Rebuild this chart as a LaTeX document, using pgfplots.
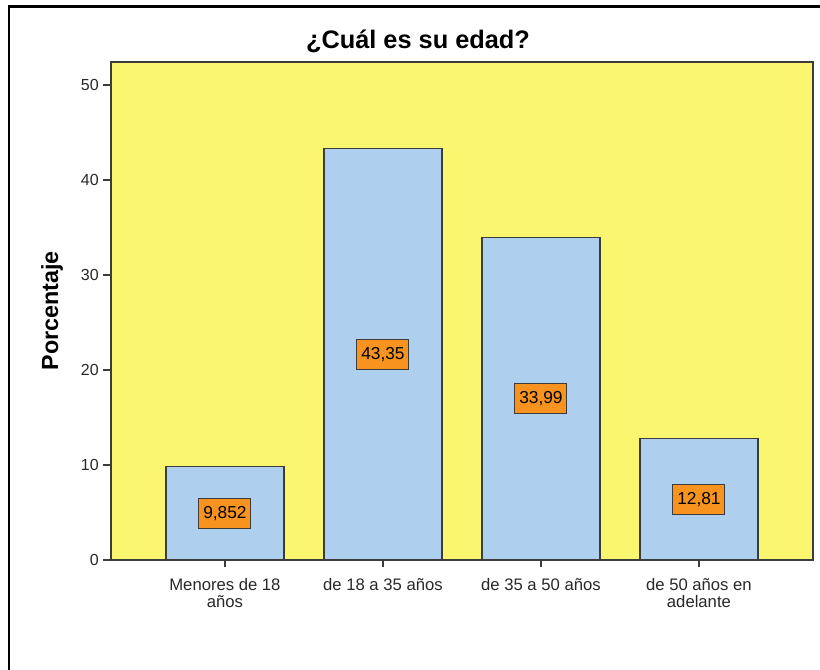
\documentclass[border=0pt]{standalone}
\usepackage{fontspec}
\setmainfont{Liberation Sans}
\usepackage{pgfplots}
\pgfplotsset{compat=1.18}
\definecolor{bgyellow}{RGB}{250,246,112}
\definecolor{barblue}{RGB}{174,207,237}
\definecolor{lblorange}{RGB}{247,147,30}
\definecolor{edgegray}{RGB}{60,60,60}
\definecolor{txtgray}{RGB}{40,40,40}
\begin{document}
\begin{tikzpicture}
\useasboundingbox (0pt,0pt) rectangle (615pt,501.75pt);
% outer frame (left and top edges)
\draw[black,line width=1.6pt] (6.75pt,-20pt) -- (6.75pt,496.9pt) -- (640pt,496.9pt);
\begin{axis}[
  at={(83.03pt,81.75pt)}, anchor=south west,
  scale only axis,
  width=526.5pt, height=373.7pt,
  xmin=-0.723, xmax=3.72,
  ymin=0, ymax=52.45,
  axis background/.style={fill=bgyellow},
  axis line style={edgegray,line width=1.2pt},
  xtick={0,1,2,3},
  xticklabels={{Menores de 18\\años},{de 18 a 35 años},{de 35 a 50 años},{de 50 años en\\adelante}},
  xticklabel style={align=center,font=\fontsize{12.5}{13}\selectfont,text=txtgray,yshift=-4.5pt},
  ytick={0,10,20,30,40,50},
  yticklabel style={font=\fontsize{12}{13}\selectfont,text=txtgray},
  /pgf/number format/assume math mode=true,
  tick style={edgegray,line width=0.9pt},
  tick align=outside,
  major tick length=5.5pt,
  xtick pos=bottom, ytick pos=left,
  ylabel={Porcentaje},
  ylabel style={font=\bfseries\fontsize{17.5}{18}\selectfont, at={(axis description cs:-0.0836,0.5)}, anchor=center},
  title={¿Cuál es su edad?},
  title style={font=\bfseries\fontsize{19}{20}\selectfont, at={(axis description cs:0.5,1)}, anchor=center, xshift=-32.8pt, yshift=9.5pt},
  clip=false,
]
\addplot[ybar, bar width=0.747, fill=barblue, draw=edgegray, line width=0.9pt]
  coordinates {(0,9.852) (1,43.35) (2,33.99) (3,12.81)};
\addplot[draw=none, mark=none,
  nodes near coords,
  point meta=explicit symbolic,
  nodes near coords style={anchor=center, fill=lblorange, draw=edgegray, line width=0.8pt,
     inner sep=0pt, minimum width=39pt, minimum height=22.5pt,
     font=\fontsize{13}{13}\selectfont, text=black}]
  coordinates {(0,4.926)[9,852] (1,21.675)[43,35] (2,16.995)[33,99] (3,6.405)[12,81]};
\end{axis}
\end{tikzpicture}
\end{document}
